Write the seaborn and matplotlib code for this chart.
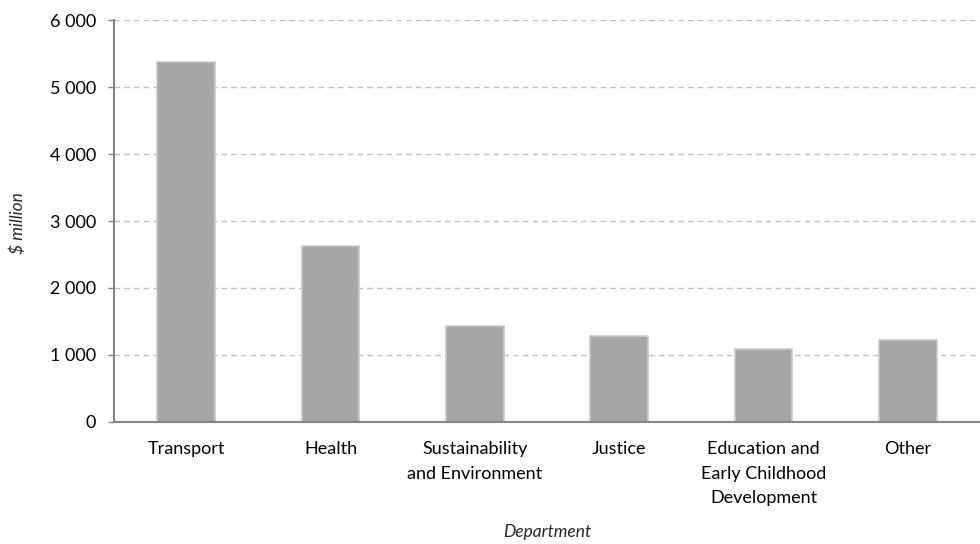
import pandas as pd
import matplotlib
matplotlib.use("Agg")
import matplotlib.pyplot as plt
import matplotlib.ticker as mticker
import seaborn as sns

# Dados
departamentos = ["Transport", "Health", "Sustainability\nand Environment", "Justice",
                 "Education and\nEarly Childhood\nDevelopment", "Other"]
valores = [5370, 2620, 1440, 1290, 1090, 1230]

df = pd.DataFrame({"departamento": departamentos, "valor": valores})

sns.set_style("white")
plt.rcParams["font.family"] = ["Lato", "DejaVu Sans"]

fig = plt.figure(figsize=(9.8, 5.44), dpi=100)
ax = fig.add_axes([0.1163, 0.2243, 0.8837, 0.7389])

sns.barplot(data=df, x="departamento", y="valor", color="#a6a6a6", saturation=1,
            width=0.4, edgecolor="#c8c8c8", linewidth=1.2, ax=ax, zorder=3)

ax.set_ylim(0, 6000)
ax.set_xlim(-0.5, 5.5)
ax.yaxis.set_major_locator(mticker.MultipleLocator(1000))
ax.yaxis.set_major_formatter(mticker.FuncFormatter(lambda v, p: f"{int(v):,}".replace(",", " ")))
ax.grid(axis="y", color="#c0c0c0", linestyle=(0, (4, 3)), linewidth=1, zorder=0)

# ticks entre categorias
ax.set_xticks([i + 0.5 for i in range(-1, 6)], minor=True)
ax.tick_params(axis="x", which="major", length=0, pad=14, labelsize=13, colors="black")
ax.tick_params(axis="x", which="minor", length=4, width=1, color="#868686", direction="out")
ax.tick_params(axis="y", length=4, width=1, color="#868686", pad=9, labelsize=13,
               labelcolor="black", left=True)
for lbl in ax.get_xticklabels():
    lbl.set_linespacing(1.65)
    lbl.set_va("top")

for s in ["top", "right"]:
    ax.spines[s].set_visible(False)
for s in ["left", "bottom"]:
    ax.spines[s].set_color("#868686")
    ax.spines[s].set_linewidth(1.5)
    ax.spines[s].set_zorder(4)

ax.set_xlabel("")
ax.set_ylabel("")
fig.text(0.5582, 0.022, "Department", style="italic", fontsize=12.5, ha="center", va="center")
fig.text(0.018, 0.59, "$ million", style="italic", fontsize=12.5, ha="center", va="center",
         rotation=90)

fig.savefig("out.png", dpi=100)
